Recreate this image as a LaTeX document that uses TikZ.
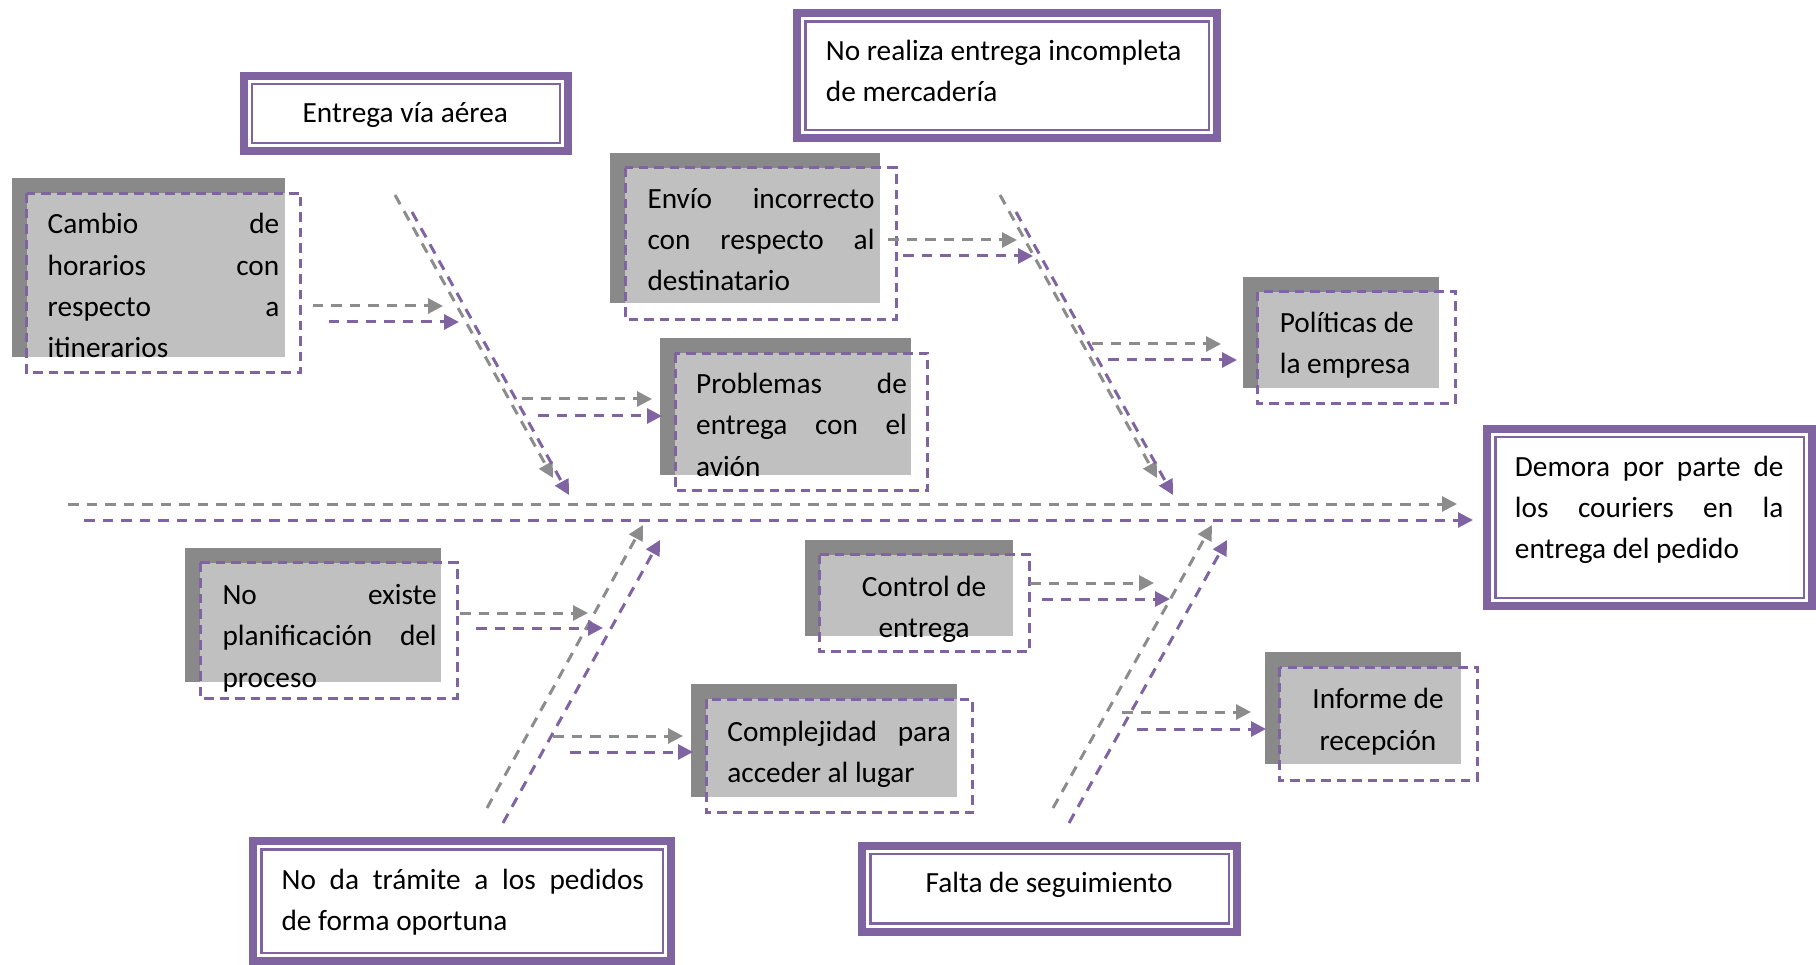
\documentclass[tikz,border=0pt]{standalone}
\usepackage{fontspec}
\setmainfont{Carlito}
\usetikzlibrary{arrows.meta}
\definecolor{purp}{HTML}{8064A2}
\definecolor{garr}{HTML}{8C8C8C}
\definecolor{darkg}{HTML}{898989}
\definecolor{lightg}{HTML}{C0C0C0}
\newcommand\causeframe[4]{%
  \fill[darkg] (#1,#2) rectangle (#3,#4);
  \fill[lightg] (#1+15,#2+15) rectangle (#3,#4);
  \draw[boxdash] (#1+15,#2+15) rectangle (#3+16,#4+16);
}
\newcommand\headframe[4]{%
  \draw[purp, line width=8pt] (#1+4,#2+4) rectangle (#3-4,#4-4);
  \draw[purp, line width=2.5pt] (#1+12.25,#2+12.25) rectangle (#3-12.25,#4-12.25);
}
\begin{document}
\begin{tikzpicture}[x=1pt,y=-1pt,
  txt/.style={inner sep=0pt, font=\fontsize{29.3}{41.2}\selectfont, align=flush left},
  ctxt/.style={inner sep=0pt, font=\fontsize{29.3}{41.2}\selectfont, align=flush center},
  garrow/.style={draw=garr, line width=3pt, dash pattern=on 10.5pt off 8pt, -{Triangle[length=15pt,width=15pt]}},
  parrow/.style={draw=purp, line width=3pt, dash pattern=on 10.5pt off 8pt, -{Triangle[length=15pt,width=15pt]}},
  boxdash/.style={draw=purp, line width=3pt, dash pattern=on 9.5pt off 6pt},
]
\useasboundingbox (0,0) rectangle (1816,965);

% ---------- connectors (coordinates) ----------
\coordinate (spG1) at (68,504);   \coordinate (spG2) at (1457,504);
\coordinate (spP1) at (84,520);   \coordinate (spP2) at (1473,520);
\coordinate (b1G1) at (395,195);  \coordinate (b1G2) at (553,478);
\coordinate (b1P1) at (412,212);  \coordinate (b1P2) at (569,495);
\coordinate (b2G1) at (1000,195); \coordinate (b2G2) at (1157,478);
\coordinate (b2P1) at (1016,212); \coordinate (b2P2) at (1173,495);
\coordinate (b3G1) at (487,808);  \coordinate (b3G2) at (643,525);
\coordinate (b3P1) at (503,823);  \coordinate (b3P2) at (660,540);
\coordinate (b4G1) at (1053,808); \coordinate (b4G2) at (1212,525);
\coordinate (b4P1) at (1069,823); \coordinate (b4P2) at (1227,540);
% sub arrows
\coordinate (s1G1) at (312.7,306); \coordinate (s1G2) at (443,306);
\coordinate (s1P1) at (328.9,322); \coordinate (s1P2) at (459,322);
\coordinate (s2G1) at (522,399);   \coordinate (s2G2) at (652,399);
\coordinate (s2P1) at (538,416);   \coordinate (s2P2) at (662,416);
\coordinate (s3G1) at (888,240);   \coordinate (s3G2) at (1017,240);
\coordinate (s3P1) at (903,256);   \coordinate (s3P2) at (1033,256);
\coordinate (s4G1) at (1092,344);  \coordinate (s4G2) at (1221,344);
\coordinate (s4P1) at (1108,360);  \coordinate (s4P2) at (1237,360);
\coordinate (s5G1) at (460,613);   \coordinate (s5G2) at (588,613);
\coordinate (s5P1) at (476,628);   \coordinate (s5P2) at (603,628);
\coordinate (s6G1) at (553,736);   \coordinate (s6G2) at (683,736);
\coordinate (s6P1) at (570,752);   \coordinate (s6P2) at (693,752);
\coordinate (s7G1) at (1030,583);  \coordinate (s7G2) at (1154,583);
\coordinate (s7P1) at (1042,599);  \coordinate (s7P2) at (1170,599);
\coordinate (s8G1) at (1122,712);  \coordinate (s8G2) at (1251,712);
\coordinate (s8P1) at (1137,729);  \coordinate (s8P2) at (1266,729);

% ---------- head boxes ----------
\headframe{239.7}{71.8}{572.1}{155.2}
\headframe{793.2}{9.3}{1221}{142.4}
\headframe{249}{837.2}{675.1}{965}
\headframe{858.1}{841.9}{1241.4}{935.7}
\headframe{1483.4}{425}{1816}{610.3}

% ---------- cause boxes ----------
\causeframe{11.6}{178.3}{284.9}{356.7}
\causeframe{610.3}{152.9}{880.1}{303.4}
\causeframe{660}{338.1}{911.3}{474.8}
\causeframe{1242.5}{276.8}{1439.4}{387.9}
\causeframe{185.3}{547.7}{441.2}{682.1}
\causeframe{804.8}{539.6}{1013.3}{635.7}
\causeframe{691.3}{684.4}{956.5}{796.7}
\causeframe{1264.5}{652}{1461.4}{764.3}

% ---------- arrows ----------
\draw[garrow] (spG1) -- (spG2);  \draw[parrow] (spP1) -- (spP2);
\draw[garrow] (b1G1) -- (b1G2);  \draw[parrow] (b1P1) -- (b1P2);
\draw[garrow] (b2G1) -- (b2G2);  \draw[parrow] (b2P1) -- (b2P2);
\draw[garrow] (b3G1) -- (b3G2);  \draw[parrow] (b3P1) -- (b3P2);
\draw[garrow] (b4G1) -- (b4G2);  \draw[parrow] (b4P1) -- (b4P2);
\draw[garrow] (s1G1) -- (s1G2);  \draw[parrow] (s1P1) -- (s1P2);
\draw[garrow] (s2G1) -- (s2G2);  \draw[parrow] (s2P1) -- (s2P2);
\draw[garrow] (s3G1) -- (s3G2);  \draw[parrow] (s3P1) -- (s3P2);
\draw[garrow] (s4G1) -- (s4G2);  \draw[parrow] (s4P1) -- (s4P2);
\draw[garrow] (s5G1) -- (s5G2);  \draw[parrow] (s5P1) -- (s5P2);
\draw[garrow] (s6G1) -- (s6G2);  \draw[parrow] (s6P1) -- (s6P2);
\draw[garrow] (s7G1) -- (s7G2);  \draw[parrow] (s7P1) -- (s7P2);
\draw[garrow] (s8G1) -- (s8G2);  \draw[parrow] (s8P1) -- (s8P2);

% ---------- texts ----------
\node[ctxt, anchor=base] (h1) at (405.3,122.8) {Entrega vía aérea};
\node[txt, text width=380, anchor=base west] (h2) at (825.7,60.3) {No realiza entrega incompleta\\ de mercadería};
\node[txt, text width=362.4, anchor=base west] (h3) at (281.4,889.4) {No\hfill da\hfill trámite\hfill a\hfill los\hfill pedidos\\ de forma oportuna};
\node[ctxt, anchor=base] (h4) at (1049.1,892.9) {Falta de seguimiento};
\node[txt, text width=268.6, anchor=base west] (ef) at (1514.7,476) {Demora\hfill por\hfill parte\hfill de\\ los\hfill couriers\hfill en\hfill la\\ entrega del pedido};

\node[txt, text width=231.6, anchor=base west] (c1) at (47.5,234) {Cambio\hfill de\\ horarios\hfill con\\ respecto\hfill a\\ itinerarios};
\node[txt, text width=227, anchor=base west] (c2) at (647.3,208.5) {Envío\hfill incorrecto\\ con\hfill respecto\hfill al\\ destinatario};
\node[txt, text width=210.7, anchor=base west] (c3) at (696,393.8) {Problemas\hfill de\\ entrega\hfill con\hfill el\\ avión};
\node[txt, text width=170, anchor=base west] (c4) at (1279.6,332.4) {Políticas de\\ la empresa};
\node[txt, text width=214.3, anchor=base west] (c5) at (222.3,604.6) {No\hfill existe\\ planificación\hfill del\\ proceso};
\node[ctxt, text width=180, anchor=base] (c6) at (924.1,596.5) {Control de\\ entrega};
\node[txt, text width=223.5, anchor=base west] (c7) at (727.2,741.2) {Complejidad\hfill para\\ acceder al lugar};
\node[ctxt, text width=180, anchor=base] (c8) at (1378,708.8) {Informe de\\ recepción};
\end{tikzpicture}
\end{document}
